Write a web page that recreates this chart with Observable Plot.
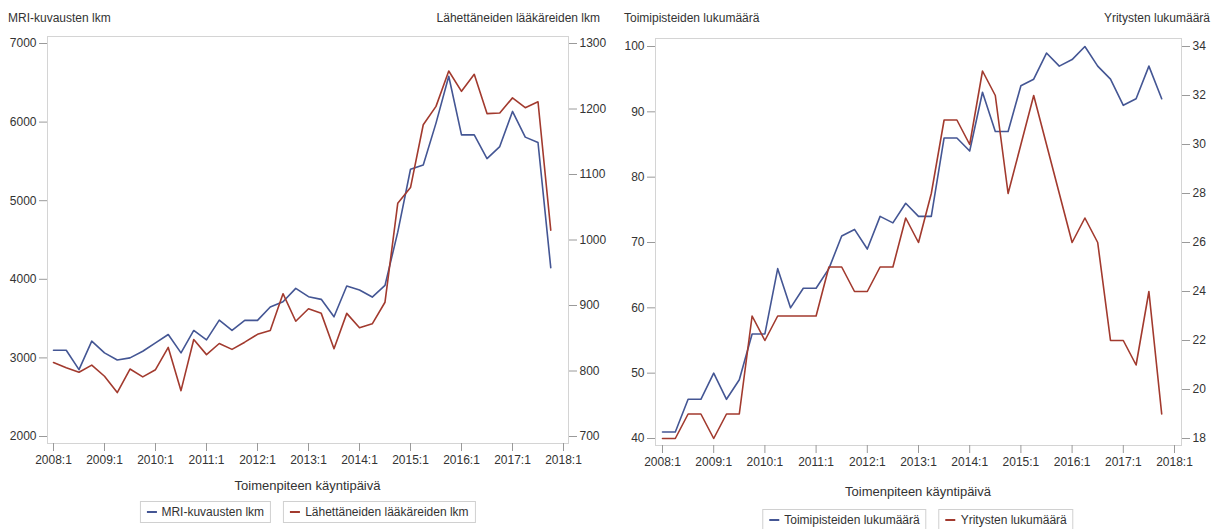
<!DOCTYPE html>
<html><head><meta charset="utf-8">
<script src="https://cdn.jsdelivr.net/npm/d3@7"></script>
<script src="https://cdn.jsdelivr.net/npm/@observablehq/plot@0.6"></script>
<style>
body{margin:0;background:#fff;font-family:"Liberation Sans Narrow","Arial Narrow","Liberation Sans",Arial,sans-serif;color:#333}
#wrap{position:relative;width:1216px;height:529px;overflow:hidden;background:#fff}
.panel{position:absolute;top:0;width:608px;height:529px}
.panel svg{position:absolute;left:0;top:0}
.t{position:absolute;font-size:12px;white-space:nowrap;line-height:14px}
.xl{position:absolute;font-size:13px;white-space:nowrap;transform:translateX(-50%);line-height:15px}
.leg{position:absolute;display:flex;gap:12px;font-size:12px;transform:translateX(-50%);white-space:nowrap}
.leg .box{border:1px solid #d0d0d0;padding:3px 6px;line-height:14px}
.leg .sw{display:inline-block;width:10px;height:2px;vertical-align:middle;margin-right:5px;position:relative;top:-1px}
</style></head>
<body><div id="wrap">
<div class="panel" id="p1" style="left:0"></div>
<div class="panel" id="p2" style="left:608px"></div>
</div>
<script>
// Quarterly data 2008:1 ... 2017:4
const startYear = 2008;
const mriKuvaukset = [3098,3098,2851,3213,3064,2974,3000,3085,3191,3298,3064,3349,3230,3481,3349,3477,3477,3647,3715,3885,3779,3745,3523,3915,3864,3774,3923,4600,5400,5455,5987,6583,5838,5838,5536,5689,6136,5809,5740,4149];
const lahettaneetLaakarit = [813,805,798,809,792,767,803,791,802,836,770,848,825,842,833,844,856,862,918,876,895,888,834,888,866,872,905,1056,1080,1176,1204,1258,1227,1253,1193,1194,1217,1202,1211,1015];
const toimipisteet = [41,41,46,46,50,46,49,56,56,66,60,63,63,66,71,72,69,74,73,76,74,74,86,86,84,93,87,87,94,95,99,97,98,100,97,95,91,92,97,92];
const yritykset = [18,18,19,19,18,19,19,23,22,23,23,23,23,25,25,24,24,25,25,27,26,28,31,31,30,33,32,28,30,32,30,28,26,27,26,22,22,21,24,19];
const xTickYears = [2008,2009,2010,2011,2012,2013,2014,2015,2016,2017,2018];
const xTickLabels = ["2008:1","2009:1","2010:1","2011:1","2012:1","2013:1","2014:1","2015:1","2016:1","2017:1","2018:1"];
const p1LeftTicks = [2000,3000,4000,5000,6000,7000];
const p1RightTicks = [700,800,900,1000,1100,1200,1300];
const p2LeftTicks = [40,50,60,70,80,90,100];
const p2RightTicks = [18,20,22,24,26,28,30,32,34];

const BLUE = "#445694", RED = "#A23A2E";
const FONT = '"Liberation Sans Narrow","Arial Narrow","Liberation Sans",Arial,sans-serif';

function quarterX(i){ return startYear + Math.floor(i/4) + (i%4)/4; }

function buildPanel(el, cfg){
  const lDom = [cfg.leftTicks[0], cfg.leftTicks[cfg.leftTicks.length-1]];
  const rDom = [cfg.rightTicks[0], cfg.rightTicks[cfg.rightTicks.length-1]];
  const toL = d3.scaleLinear().domain(rDom).range(lDom);
  const dataL = cfg.left.map((v,i)=>({x:quarterX(i), v}));
  const dataR = cfg.right.map((v,i)=>({x:quarterX(i), v: toL(v)}));
  const svg = Plot.plot({
    width:608, height:cfg.height,
    marginLeft:cfg.ml, marginRight:cfg.mr, marginTop:cfg.mt, marginBottom:cfg.mb,
    x:{domain:[2008,2018], insetLeft:cfg.ixl, insetRight:cfg.ixr},
    y:{domain:lDom, insetTop:cfg.iyt, insetBottom:cfg.iyb},
    style:{fontFamily:FONT, fontSize:"12px", color:"#333", background:"transparent", overflow:"visible"},
    marks:[
      Plot.frame({stroke:"#d4d4d4"}),
      Plot.axisX(xTickYears, {tickFormat:d=>xTickLabels[xTickYears.indexOf(d)], tickSize:8, tickPadding:4, label:null, stroke:"#9a9a9a", fontSize:12}),
      Plot.axisY(cfg.leftTicks, {anchor:"left", tickSize:8, tickPadding:3, label:null, stroke:"#9a9a9a", fontSize:12, tickFormat:d=>String(d)}),
      Plot.axisY(cfg.rightTicks.map(toL), {anchor:"right", tickSize:8, tickPadding:3, label:null, stroke:"#9a9a9a", fontSize:12, tickFormat:d=>String(Math.round(toL.invert(d)))}),
      Plot.lineY(dataL, {x:"x", y:"v", stroke:BLUE, strokeWidth:1.6}),
      Plot.lineY(dataR, {x:"x", y:"v", stroke:RED, strokeWidth:1.6})
    ]
  });
  el.appendChild(svg);
  const add = (cls, txt, style)=>{ const d=document.createElement("div"); d.className=cls; d.textContent=txt; Object.assign(d.style, style); el.appendChild(d); return d; };
  add("t", cfg.lTitle, {left:cfg.lTitleX+"px", top:"11px"});
  add("t", cfg.rTitle, {right:cfg.rTitleR+"px", top:"11px"});
  const cx = (cfg.ml + 608 - cfg.mr)/2;
  add("xl", "Toimenpiteen käyntipäivä", {left:cx+"px", top:cfg.xlTop+"px"});
  const leg = document.createElement("div"); leg.className="leg";
  leg.style.left = cx+"px"; leg.style.top = cfg.legTop+"px";
  [[BLUE,cfg.lName],[RED,cfg.rName]].forEach(([c,n])=>{
    const b=document.createElement("span"); b.className="box";
    b.innerHTML = `<span class="sw" style="background:${c}"></span>`;
    b.appendChild(document.createTextNode(n));
    leg.appendChild(b);
  });
  el.appendChild(leg);
}

buildPanel(document.getElementById("p1"), {
  left:mriKuvaukset, right:lahettaneetLaakarit, leftTicks:p1LeftTicks, rightTicks:p1RightTicks,
  height:480, ml:47, mr:40, mt:36, mb:37, ixl:6, ixr:5, iyt:7, iyb:7,
  lTitle:"MRI-kuvausten lkm", rTitle:"Lähettäneiden lääkäreiden lkm", lTitleX:8, rTitleR:8,
  lName:"MRI-kuvausten lkm", rName:"Lähettäneiden lääkäreiden lkm", xlTop:478, legTop:501
});
buildPanel(document.getElementById("p2"), {
  left:toimipisteet, right:yritykset, leftTicks:p2LeftTicks, rightTicks:p2RightTicks,
  height:485, ml:47, mr:35, mt:38, mb:40, ixl:7, ixr:7, iyt:8, iyb:7,
  lTitle:"Toimipisteiden lukumäärä", rTitle:"Yritysten lukumäärä", lTitleX:16, rTitleR:6,
  lName:"Toimipisteiden lukumäärä", rName:"Yritysten lukumäärä", xlTop:484, legTop:509
});
</script></body></html>
